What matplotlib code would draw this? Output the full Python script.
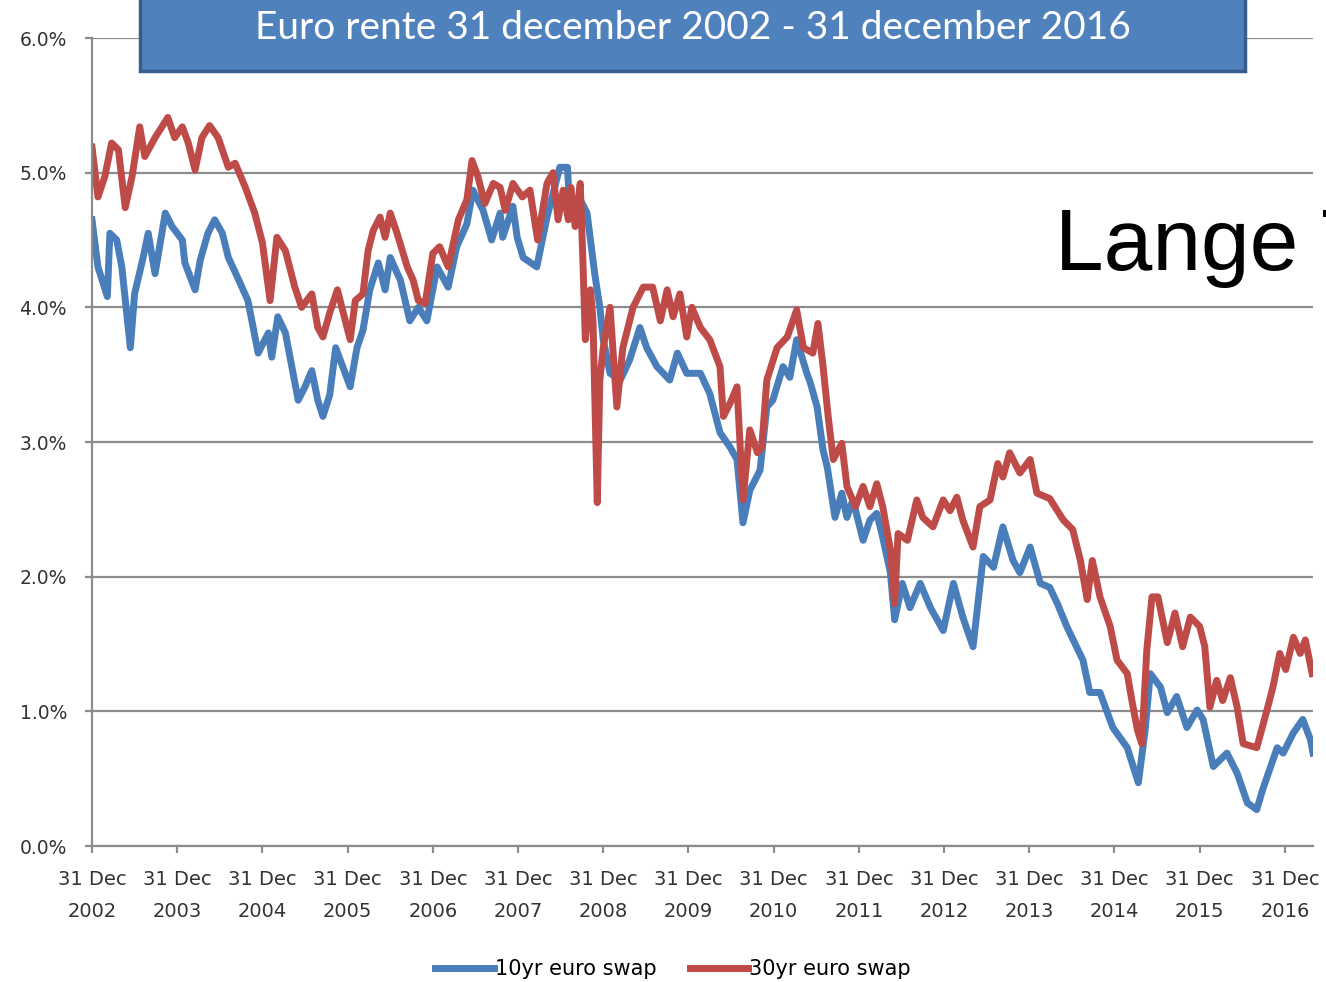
import matplotlib
matplotlib.use("Agg")
import matplotlib.pyplot as plt
from matplotlib.patches import Rectangle

# years since 31 Dec 2002
t_10y = [0.00, 0.07, 0.18, 0.21, 0.29, 0.35, 0.45, 0.50, 0.60, 0.66, 0.74, 0.86, 0.94,
         1.06, 1.09, 1.21, 1.27, 1.36, 1.44, 1.53, 1.60, 1.71, 1.83, 1.95, 2.07, 2.11,
         2.18, 2.27, 2.42, 2.50, 2.58, 2.65, 2.71, 2.79, 2.86, 3.03, 3.11, 3.18, 3.26,
         3.36, 3.44, 3.50, 3.62, 3.73, 3.83, 3.93, 4.05, 4.18, 4.28, 4.40, 4.47, 4.59,
         4.69, 4.79, 4.82, 4.94, 4.99, 5.06, 5.22, 5.34, 5.49, 5.58, 5.61, 5.73, 5.81,
         5.85, 5.90, 5.96, 6.00, 6.08, 6.20, 6.31, 6.43, 6.51, 6.63, 6.78, 6.87, 6.98,
         7.14, 7.25, 7.37, 7.49, 7.57, 7.64, 7.72, 7.84, 7.92, 7.99, 8.11, 8.19, 8.27,
         8.39, 8.43, 8.51, 8.58, 8.63, 8.72, 8.80, 8.86, 8.93, 9.05, 9.13, 9.21, 9.27,
         9.37, 9.42, 9.51, 9.60, 9.72, 9.84, 9.99, 10.11, 10.22, 10.34, 10.46, 10.58,
         10.69, 10.81, 10.89, 11.01, 11.13, 11.24, 11.33, 11.44, 11.63, 11.71, 11.83,
         11.98, 12.15, 12.28, 12.36, 12.42, 12.54, 12.62, 12.73, 12.85, 12.97, 13.04,
         13.16, 13.32, 13.44, 13.56, 13.67, 13.74, 13.91, 13.98, 14.10, 14.21, 14.30, 14.33]
swap_10y = [4.65, 4.30, 4.08, 4.55, 4.50, 4.30, 3.70, 4.10, 4.37, 4.55, 4.25, 4.70, 4.60,
            4.50, 4.33, 4.13, 4.35, 4.55, 4.65, 4.55, 4.37, 4.22, 4.05, 3.66, 3.81, 3.63,
            3.93, 3.81, 3.31, 3.41, 3.53, 3.31, 3.19, 3.35, 3.70, 3.41, 3.70, 3.83, 4.13,
            4.33, 4.13, 4.37, 4.20, 3.90, 4.00, 3.90, 4.30, 4.15, 4.45, 4.62, 4.87, 4.72,
            4.50, 4.70, 4.52, 4.75, 4.52, 4.37, 4.30, 4.67, 5.04, 5.04, 4.70, 4.80, 4.70,
            4.50, 4.25, 4.00, 3.76, 3.51, 3.46, 3.61, 3.85, 3.70, 3.56, 3.46, 3.66, 3.51,
            3.51, 3.36, 3.07, 2.96, 2.87, 2.40, 2.64, 2.79, 3.26, 3.31, 3.56, 3.48, 3.76,
            3.51, 3.44, 3.26, 2.94, 2.81, 2.44, 2.62, 2.44, 2.57, 2.27, 2.42, 2.47, 2.32,
            2.03, 1.68, 1.95, 1.77, 1.95, 1.77, 1.60, 1.95, 1.70, 1.48, 2.15, 2.07,
            2.37, 2.12, 2.03, 2.22, 1.95, 1.92, 1.80, 1.63, 1.38, 1.14, 1.14,
            0.88, 0.73, 0.47, 0.86, 1.28, 1.18, 0.99, 1.11, 0.88, 1.01, 0.94,
            0.59, 0.69, 0.54, 0.32, 0.27, 0.42, 0.73, 0.69, 0.84, 0.94, 0.79, 0.69]

t_30y = [0.00, 0.07, 0.15, 0.23, 0.31, 0.39, 0.47, 0.56, 0.62, 0.74, 0.89, 0.97, 1.06,
         1.13, 1.21, 1.29, 1.38, 1.48, 1.60, 1.68, 1.80, 1.91, 2.00, 2.09, 2.17, 2.27,
         2.38, 2.46, 2.58, 2.65, 2.71, 2.79, 2.88, 3.03, 3.09, 3.18, 3.24, 3.30, 3.38,
         3.44, 3.50, 3.58, 3.70, 3.77, 3.83, 3.91, 4.00, 4.08, 4.18, 4.30, 4.40, 4.46,
         4.53, 4.61, 4.71, 4.79, 4.85, 4.94, 5.05, 5.14, 5.23, 5.34, 5.41, 5.47, 5.53,
         5.59, 5.62, 5.67, 5.73, 5.76, 5.79, 5.85, 5.88, 5.93, 5.96, 6.00, 6.08, 6.16,
         6.23, 6.35, 6.47, 6.58, 6.67, 6.75, 6.82, 6.90, 6.98, 7.04, 7.14, 7.25, 7.37,
         7.41, 7.49, 7.57, 7.64, 7.72, 7.81, 7.86, 7.92, 8.04, 8.16, 8.27, 8.35, 8.46,
         8.52, 8.58, 8.64, 8.70, 8.80, 8.86, 8.96, 9.05, 9.13, 9.21, 9.28, 9.37, 9.42,
         9.46, 9.57, 9.68, 9.75, 9.87, 9.99, 10.07, 10.15, 10.22, 10.34, 10.42, 10.54,
         10.63, 10.69, 10.77, 10.89, 11.01, 11.09, 11.24, 11.40, 11.51, 11.60, 11.68,
         11.74, 11.83, 11.95, 12.03, 12.15, 12.21, 12.27, 12.32, 12.38, 12.44, 12.51,
         12.62, 12.71, 12.80, 12.89, 13.00, 13.06, 13.12, 13.20, 13.27, 13.36, 13.44,
         13.51, 13.67, 13.79, 13.86, 13.94, 14.01, 14.10, 14.18, 14.24, 14.32]
swap_30y = [5.19, 4.82, 4.97, 5.22, 5.17, 4.74, 4.97, 5.34, 5.12, 5.26, 5.41, 5.26, 5.34,
            5.22, 5.02, 5.26, 5.35, 5.26, 5.04, 5.07, 4.89, 4.70, 4.48, 4.05, 4.52, 4.42,
            4.15, 4.00, 4.10, 3.85, 3.78, 3.96, 4.13, 3.76, 4.05, 4.10, 4.42, 4.57, 4.67,
            4.52, 4.70, 4.55, 4.30, 4.20, 4.05, 4.03, 4.40, 4.45, 4.30, 4.65, 4.80, 5.09,
            4.97, 4.77, 4.92, 4.89, 4.72, 4.92, 4.82, 4.87, 4.50, 4.92, 5.00, 4.65, 4.87,
            4.65, 4.89, 4.60, 4.92, 4.37, 3.76, 4.13, 3.90, 2.55, 3.46, 3.70, 4.00, 3.26,
            3.70, 4.00, 4.15, 4.15, 3.90, 4.13, 3.93, 4.10, 3.78, 4.00, 3.85, 3.76, 3.56,
            3.19, 3.29, 3.41, 2.57, 3.09, 2.92, 2.96, 3.46, 3.70, 3.78, 3.98, 3.70, 3.66,
            3.88, 3.56, 3.19, 2.87, 2.99, 2.67, 2.52, 2.67, 2.52, 2.69, 2.52, 2.20, 1.80,
            2.32, 2.27, 2.57, 2.44, 2.37, 2.57, 2.49, 2.59, 2.42, 2.22, 2.52, 2.57,
            2.84, 2.74, 2.92, 2.77, 2.87, 2.62, 2.58, 2.42, 2.35, 2.12, 1.83,
            2.12, 1.85, 1.63, 1.38, 1.28, 1.06, 0.86, 0.76, 1.46, 1.85, 1.85,
            1.51, 1.73, 1.48, 1.70, 1.63, 1.48, 1.03, 1.23, 1.08, 1.25, 1.03,
            0.76, 0.73, 1.01, 1.18, 1.43, 1.31, 1.55, 1.43, 1.53, 1.28]

tick_years = list(range(2002, 2017))
tick_labels = ["31 Dec\n%d" % y for y in tick_years]
y_ticks = [0, 1, 2, 3, 4, 5, 6]

blue = "#4A7EBB"
red = "#BE4B48"
grey = "#8C8C8C"
label_font = "DejaVu Sans"

fig = plt.figure(figsize=(13.26, 9.82), dpi=100)
ax = fig.add_axes([92 / 1326, 1 - 846 / 982, (1313 - 92) / 1326, (846 - 38) / 982])

ax.plot(t_10y, swap_10y, color=blue, lw=5, solid_joinstyle="round", label="10yr euro swap")
ax.plot(t_30y, swap_30y, color=red, lw=5, solid_joinstyle="round", label="30yr euro swap")

ax.set_xlim(0, 14.33)
ax.set_ylim(0, 6)
ax.set_xticks(range(len(tick_years)))
ax.set_xticklabels(tick_labels, fontsize=14, family=label_font, color="#333333",
                   linespacing=1.9)
ax.set_yticks(y_ticks)
ax.set_yticklabels(["%.1f%%" % v for v in y_ticks], fontsize=13.5, family=label_font,
                   color="#333333")
ax.yaxis.grid(True, color=grey, lw=1.6)
ax.set_axisbelow(True)
for s in ["top", "right"]:
    ax.spines[s].set_visible(False)
for s in ["left", "bottom"]:
    ax.spines[s].set_color(grey)
    ax.spines[s].set_linewidth(1.6)
ax.tick_params(axis="both", color=grey, width=1.6, length=5)
ax.tick_params(axis="x", pad=12)
ax.tick_params(axis="y", pad=13)

ax.legend(loc="center", bbox_to_anchor=(673 / 1326, 1 - 969 / 982),
          bbox_transform=fig.transFigure, ncol=2, frameon=False,
          prop={"family": label_font, "size": 15}, handlelength=2.8,
          handletextpad=0.05, columnspacing=1.6)

# title box
fig.patches.append(Rectangle((140 / 1326, 1 - 71 / 982), 1105 / 1326, 80 / 982,
                             transform=fig.transFigure, facecolor="#4F81BD",
                             edgecolor="#385D8A", lw=2.5, zorder=5))
fig.text(693 / 1326, 1 - 28 / 982, "Euro rente 31 december 2002 - 31 december 2016",
         ha="center", va="center", color="white", fontsize=28, family="Lato", zorder=6)

fig.text(1055 / 1326, 1 - 270 / 982, "Lange T", ha="left", va="baseline",
         fontsize=63, family="Liberation Sans", color="black")

fig.savefig("out.png", dpi=100)
